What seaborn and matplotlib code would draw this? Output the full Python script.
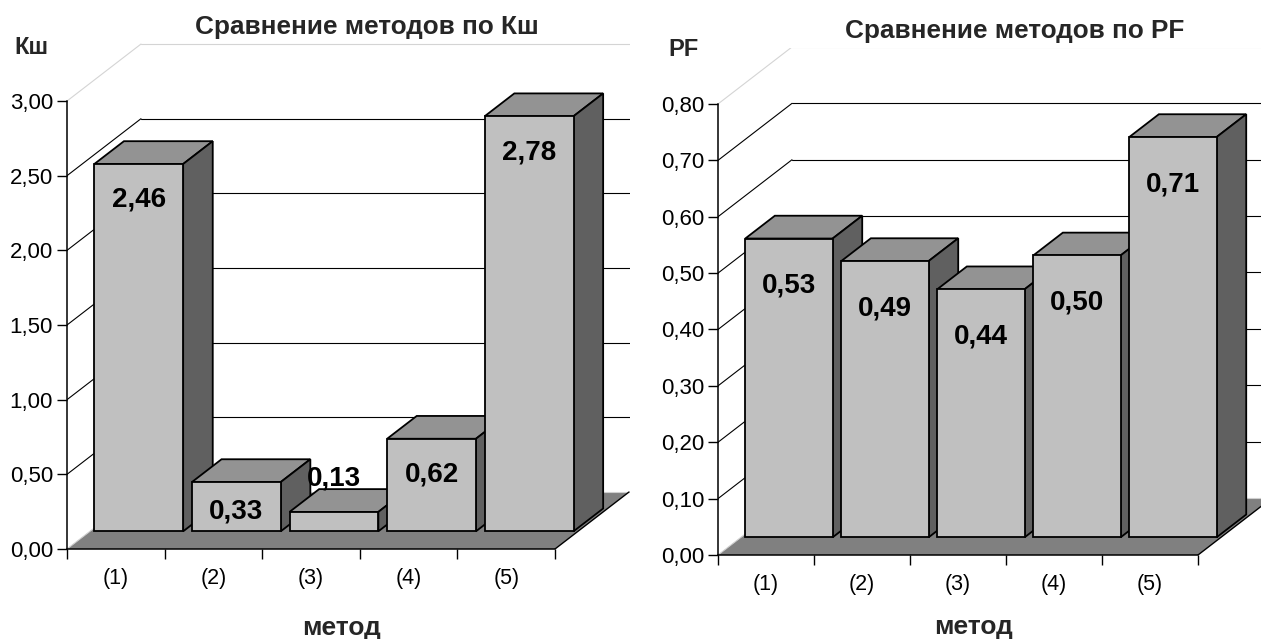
import matplotlib
matplotlib.use('Agg')
import matplotlib.pyplot as plt
import matplotlib.transforms as mtransforms
import seaborn as sns

# data
methods = ['(1)', '(2)', '(3)', '(4)', '(5)']
ksh_values = [2.46, 0.33, 0.13, 0.62, 2.78]
pf_values = [0.53, 0.49, 0.44, 0.50, 0.71]
ksh_ticks = [0.0, 0.5, 1.0, 1.5, 2.0, 2.5, 3.0]
pf_ticks = [0.0, 0.1, 0.2, 0.3, 0.4, 0.5, 0.6, 0.7, 0.8]

sns.set_theme(style='white')
plt.rcParams['font.family'] = ['Liberation Sans', 'DejaVu Sans']

FIG_W, FIG_H = 1261, 639
FRONT, TOP, SIDE, FLOOR = '#c0c0c0', '#939393', '#606060', '#808080'
BAR_W = 0.91            # width of a bar inside its category slot
F0, F1 = 0.31, 0.71     # front / back of bars as fraction of floor depth
DEPTH_PX = (74, 57)     # oblique offset of the back wall in pixels
EDGE = 1.3


def fmt(v):
    return f'{v:.2f}'.replace('.', ',')


def draw_panel(rect_px, xmax, values, ticks, ymax, drop_px):
    left, top, width, height = rect_px
    ax = fig.add_axes([left / FIG_W, 1 - (top + height) / FIG_H,
                       width / FIG_W, height / FIG_H])
    n = len(values)

    # front faces through seaborn, then shifted into depth
    sns.barplot(x=methods, y=values, ax=ax, color=FRONT, saturation=1,
                edgecolor='black', linewidth=EDGE, width=BAR_W, errorbar=None)
    ax.set_xlim(0, xmax)
    ax.set_ylim(0, ymax)
    px_x = width / xmax
    px_y = height / ymax
    dx = DEPTH_PX[0] / px_x
    dy = DEPTH_PX[1] / px_y

    shift = mtransforms.Affine2D().translate(0.5 + F0 * dx, F0 * dy) + ax.transData
    for k, patch in enumerate(ax.patches):
        patch.set_transform(shift)
        patch.set_zorder(10 + 3 * k + 2)

    d = F1 - F0
    for k, v in enumerate(values):
        x0 = k + 0.5 - BAR_W / 2 + F0 * dx
        x1 = x0 + BAR_W
        y0 = F0 * dy
        y1 = y0 + v
        ax.fill([x0, x1, x1 + d * dx, x0 + d * dx], [y1, y1, y1 + d * dy, y1 + d * dy],
                facecolor=TOP, edgecolor='black', lw=EDGE, zorder=10 + 3 * k + 1)
        ax.fill([x1, x1 + d * dx, x1 + d * dx, x1], [y0, y0 + d * dy, y1 + d * dy, y1],
                facecolor=SIDE, edgecolor='black', lw=EDGE, zorder=10 + 3 * k + 1)
        h_px = v * px_y
        if h_px < 30:
            off = 33
        else:
            off = -min(drop_px, 0.6 * h_px)
        ax.annotate(fmt(v), xy=((x0 + x1) / 2, y1), xytext=(0, off),
                    textcoords='offset pixels', ha='center', va='center',
                    fontsize=20, fontweight='bold', color='black', zorder=100)

    # back wall gridlines and side wall diagonals
    for i, t in enumerate(ticks):
        if t == 0:
            continue
        c = '#d4d4d4' if i == len(ticks) - 1 else 'black'
        ax.plot([dx, xmax], [t + dy, t + dy], color=c, lw=0.8, zorder=1)
        ax.plot([0, dx], [t, t + dy], color=c, lw=0.8, zorder=1)

    # floor
    ax.fill([0, n, n + dx, dx], [0, 0, dy, dy], facecolor=FLOOR,
            edgecolor='none', zorder=2)
    ax.plot([dx, n + dx], [dy, dy], color='#d0d0d0', lw=0.8, zorder=2.1)
    ax.plot([0, dx], [0, dy], color='#d0d0d0', lw=0.8, zorder=2.1)
    ax.plot([n, n + dx], [0, dy], color='black', lw=1.0, zorder=3)

    for s in ['top', 'right']:
        ax.spines[s].set_visible(False)
    ax.spines['left'].set_bounds(0, ticks[-1])
    ax.spines['bottom'].set_bounds(0, n)
    for s in ['left', 'bottom']:
        ax.spines[s].set_color('black')
        ax.spines[s].set_linewidth(1.1)
        ax.spines[s].set_zorder(50)

    ax.set_yticks(ticks)
    ax.set_yticklabels([fmt(t) for t in ticks])
    ax.set_xticks(range(n + 1))
    ax.set_xticklabels([''] * (n + 1))
    ax.set_xticks([k + 0.5 for k in range(n)], minor=True)
    ax.set_xticklabels(methods, minor=True)
    ax.tick_params(axis='both', which='major', direction='out', length=7,
                   width=1.0, color='black', labelsize=16, labelcolor='black', pad=3,
                   left=True, bottom=True)
    ax.tick_params(axis='x', which='minor', length=0, labelsize=15.5, pad=14,
                   labelcolor='black')
    ax.set_xlabel('')
    ax.set_ylabel('')
    ax.grid(False)
    ax.patch.set_alpha(0)
    return ax


fig = plt.figure(figsize=(FIG_W / 100, FIG_H / 100), dpi=100)

draw_panel((67, 41.3, 563, 507.7), 563 / 97.6, ksh_values, ksh_ticks, 3.40, 36)
draw_panel((718, 47.6, 543, 507.4), 543 / 96.0, pf_values, pf_ticks, 0.90, 47)

fig.text(367 / FIG_W, 1 - 27 / FIG_H, 'Сравнение методов по Кш', ha='center',
         va='center', fontsize=18.8, fontweight='bold')
fig.text(1015 / FIG_W, 1 - 31 / FIG_H, 'Сравнение методов по PF', ha='center',
         va='center', fontsize=18.8, fontweight='bold')
fig.text(31 / FIG_W, 1 - 47 / FIG_H, 'Кш', ha='center', va='center',
         fontsize=17, fontweight='bold')
fig.text(683 / FIG_W, 1 - 50 / FIG_H, 'PF', ha='center', va='center',
         fontsize=17, fontweight='bold')
fig.text(342 / FIG_W, 1 - 628 / FIG_H, 'метод', ha='center', va='center',
         fontsize=19, fontweight='bold')
fig.text(973 / FIG_W, 1 - 627 / FIG_H, 'метод', ha='center', va='center',
         fontsize=19, fontweight='bold')

fig.savefig('out.png', dpi=100)
